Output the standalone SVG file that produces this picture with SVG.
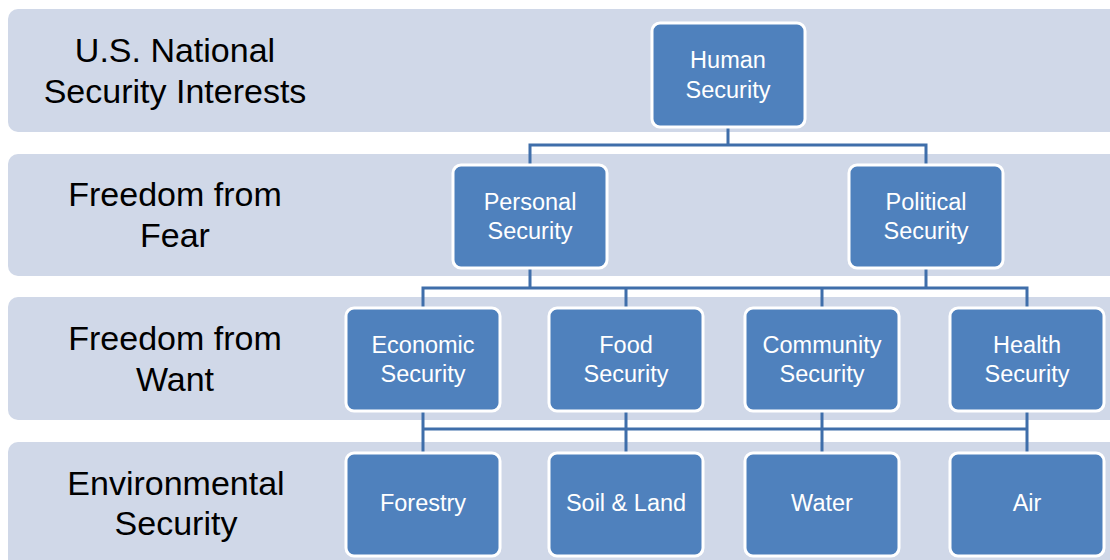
<svg xmlns="http://www.w3.org/2000/svg" width="1110" height="560" viewBox="0 0 1110 560">
  <style>
    .band { fill: #D0D8E8; }
    .band-label { font-family: "Liberation Sans", Arial, sans-serif; font-size: 34px; fill: #000; text-anchor: middle; }
    .node rect { fill: #4F81BD; stroke: #FFFFFF; stroke-width: 3; }
    .node text { font-family: "Liberation Sans", Arial, sans-serif; font-size: 23.5px; fill: #FFFFFF; text-anchor: middle; }
    .wire { fill: none; stroke: #3F6EAA; stroke-width: 3; }
  </style>
  <rect width="1110" height="560" fill="#FFFFFF"/>

  <!-- tier bands -->
  <g id="bands">
    <rect class="band" x="8" y="9" width="1120" height="123" rx="10"/>
    <rect class="band" x="8" y="154" width="1120" height="122" rx="10"/>
    <rect class="band" x="8" y="297" width="1120" height="123" rx="10"/>
    <rect class="band" x="8" y="442" width="1120" height="130" rx="10"/>
    <text class="band-label" x="175" y="62">U.S. National</text>
    <text class="band-label" x="175" y="103">Security Interests</text>
    <text class="band-label" x="175" y="206">Freedom from</text>
    <text class="band-label" x="175" y="247">Fear</text>
    <text class="band-label" x="175" y="350">Freedom from</text>
    <text class="band-label" x="175" y="391">Want</text>
    <text class="band-label" x="176" y="495">Environmental</text>
    <text class="band-label" x="176" y="535">Security</text>
  </g>

  <!-- connectors -->
  <g id="connectors">
    <path class="wire" d="M728 127 V145 M530 165 V145 H926 V165"/>
    <path class="wire" d="M530 268 V288 M926 268 V288 M423 308 V288 H1027 V308 M626 288 V308 M822 288 V308"/>
    <path class="wire" d="M423 411 V453 M626 411 V453 M822 411 V453 M1027 411 V453 M423 429 H1027"/>
  </g>

  <g id="human" class="node">
    <rect x="652" y="23" width="153" height="104" rx="8"/>
    <text x="728" y="68">Human</text>
    <text x="728" y="98">Security</text>
  </g>
  <g id="personal" class="node">
    <rect x="453" y="165" width="154" height="103" rx="8"/>
    <text x="530" y="210">Personal</text>
    <text x="530" y="239">Security</text>
  </g>
  <g id="political" class="node">
    <rect x="849" y="165" width="154" height="103" rx="8"/>
    <text x="926" y="210">Political</text>
    <text x="926" y="239">Security</text>
  </g>
  <g id="economic" class="node">
    <rect x="346" y="308" width="154" height="103" rx="8"/>
    <text x="423" y="353">Economic</text>
    <text x="423" y="382">Security</text>
  </g>
  <g id="food" class="node">
    <rect x="549" y="308" width="154" height="103" rx="8"/>
    <text x="626" y="353">Food</text>
    <text x="626" y="382">Security</text>
  </g>
  <g id="community" class="node">
    <rect x="745" y="308" width="154" height="103" rx="8"/>
    <text x="822" y="353">Community</text>
    <text x="822" y="382">Security</text>
  </g>
  <g id="health" class="node">
    <rect x="950" y="308" width="154" height="103" rx="8"/>
    <text x="1027" y="353">Health</text>
    <text x="1027" y="382">Security</text>
  </g>
  <g id="forestry" class="node">
    <rect x="346" y="453" width="154" height="103" rx="8"/>
    <text x="423" y="511">Forestry</text>
  </g>
  <g id="soil" class="node">
    <rect x="549" y="453" width="154" height="103" rx="8"/>
    <text x="626" y="511">Soil &amp; Land</text>
  </g>
  <g id="water" class="node">
    <rect x="745" y="453" width="154" height="103" rx="8"/>
    <text x="822" y="511">Water</text>
  </g>
  <g id="air" class="node">
    <rect x="950" y="453" width="154" height="103" rx="8"/>
    <text x="1027" y="511">Air</text>
  </g>
</svg>
